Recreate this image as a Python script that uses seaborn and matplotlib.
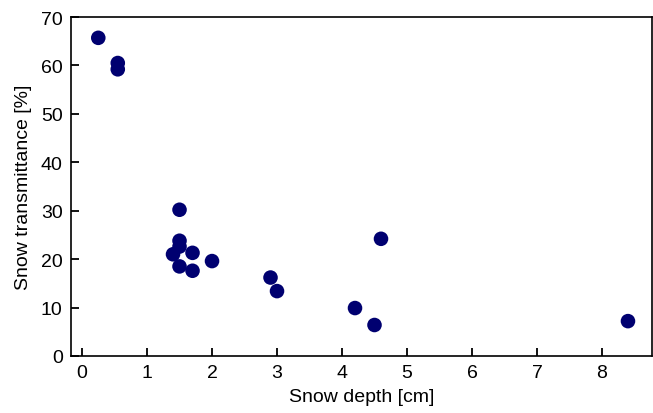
import matplotlib
matplotlib.use("Agg")
import matplotlib.pyplot as plt
import seaborn as sns
import pandas as pd

snow_depth = [0.25, 0.55, 0.55, 1.5, 1.5, 1.5, 1.4, 1.5, 1.7, 1.7, 2.0, 2.9, 3.0, 4.2, 4.5, 4.6, 8.4]
transmittance = [65.7, 60.5, 59.2, 30.2, 23.8, 22.6, 21.0, 18.5, 21.3, 17.6, 19.6, 16.2, 13.4, 9.9, 6.4, 24.2, 7.2]
x_ticks = [0, 1, 2, 3, 4, 5, 6, 7, 8]
y_ticks = [0, 10, 20, 30, 40, 50, 60, 70]

sns.set_style("ticks")
plt.rcParams['font.family'] = ['Liberation Sans', 'DejaVu Sans']

df = pd.DataFrame({"depth": snow_depth, "trans": transmittance})
fig = plt.figure(figsize=(6.53, 4.14), dpi=100)
ax = fig.add_axes([0.1087, 0.1377, 0.8898, 0.8188])
sns.scatterplot(data=df, x="depth", y="trans", ax=ax, color="#000070",
                s=110, edgecolor="none", linewidth=0, zorder=3)
ax.set_xlim(-0.17, 8.77)
ax.set_ylim(0, 70)
ax.set_xticks(x_ticks)
ax.set_yticks(y_ticks)
ax.tick_params(direction="in", length=6, width=1.3, labelsize=14, colors="black", pad=6)
for sp in ax.spines.values():
    sp.set_linewidth(1.2)
    sp.set_color("black")
ax.set_xlabel("Snow depth [cm]", fontsize=14, labelpad=5, color="black")
ax.set_ylabel("Snow transmittance [%]", fontsize=14, labelpad=6, color="black")
fig.savefig("out.png", dpi=100)
